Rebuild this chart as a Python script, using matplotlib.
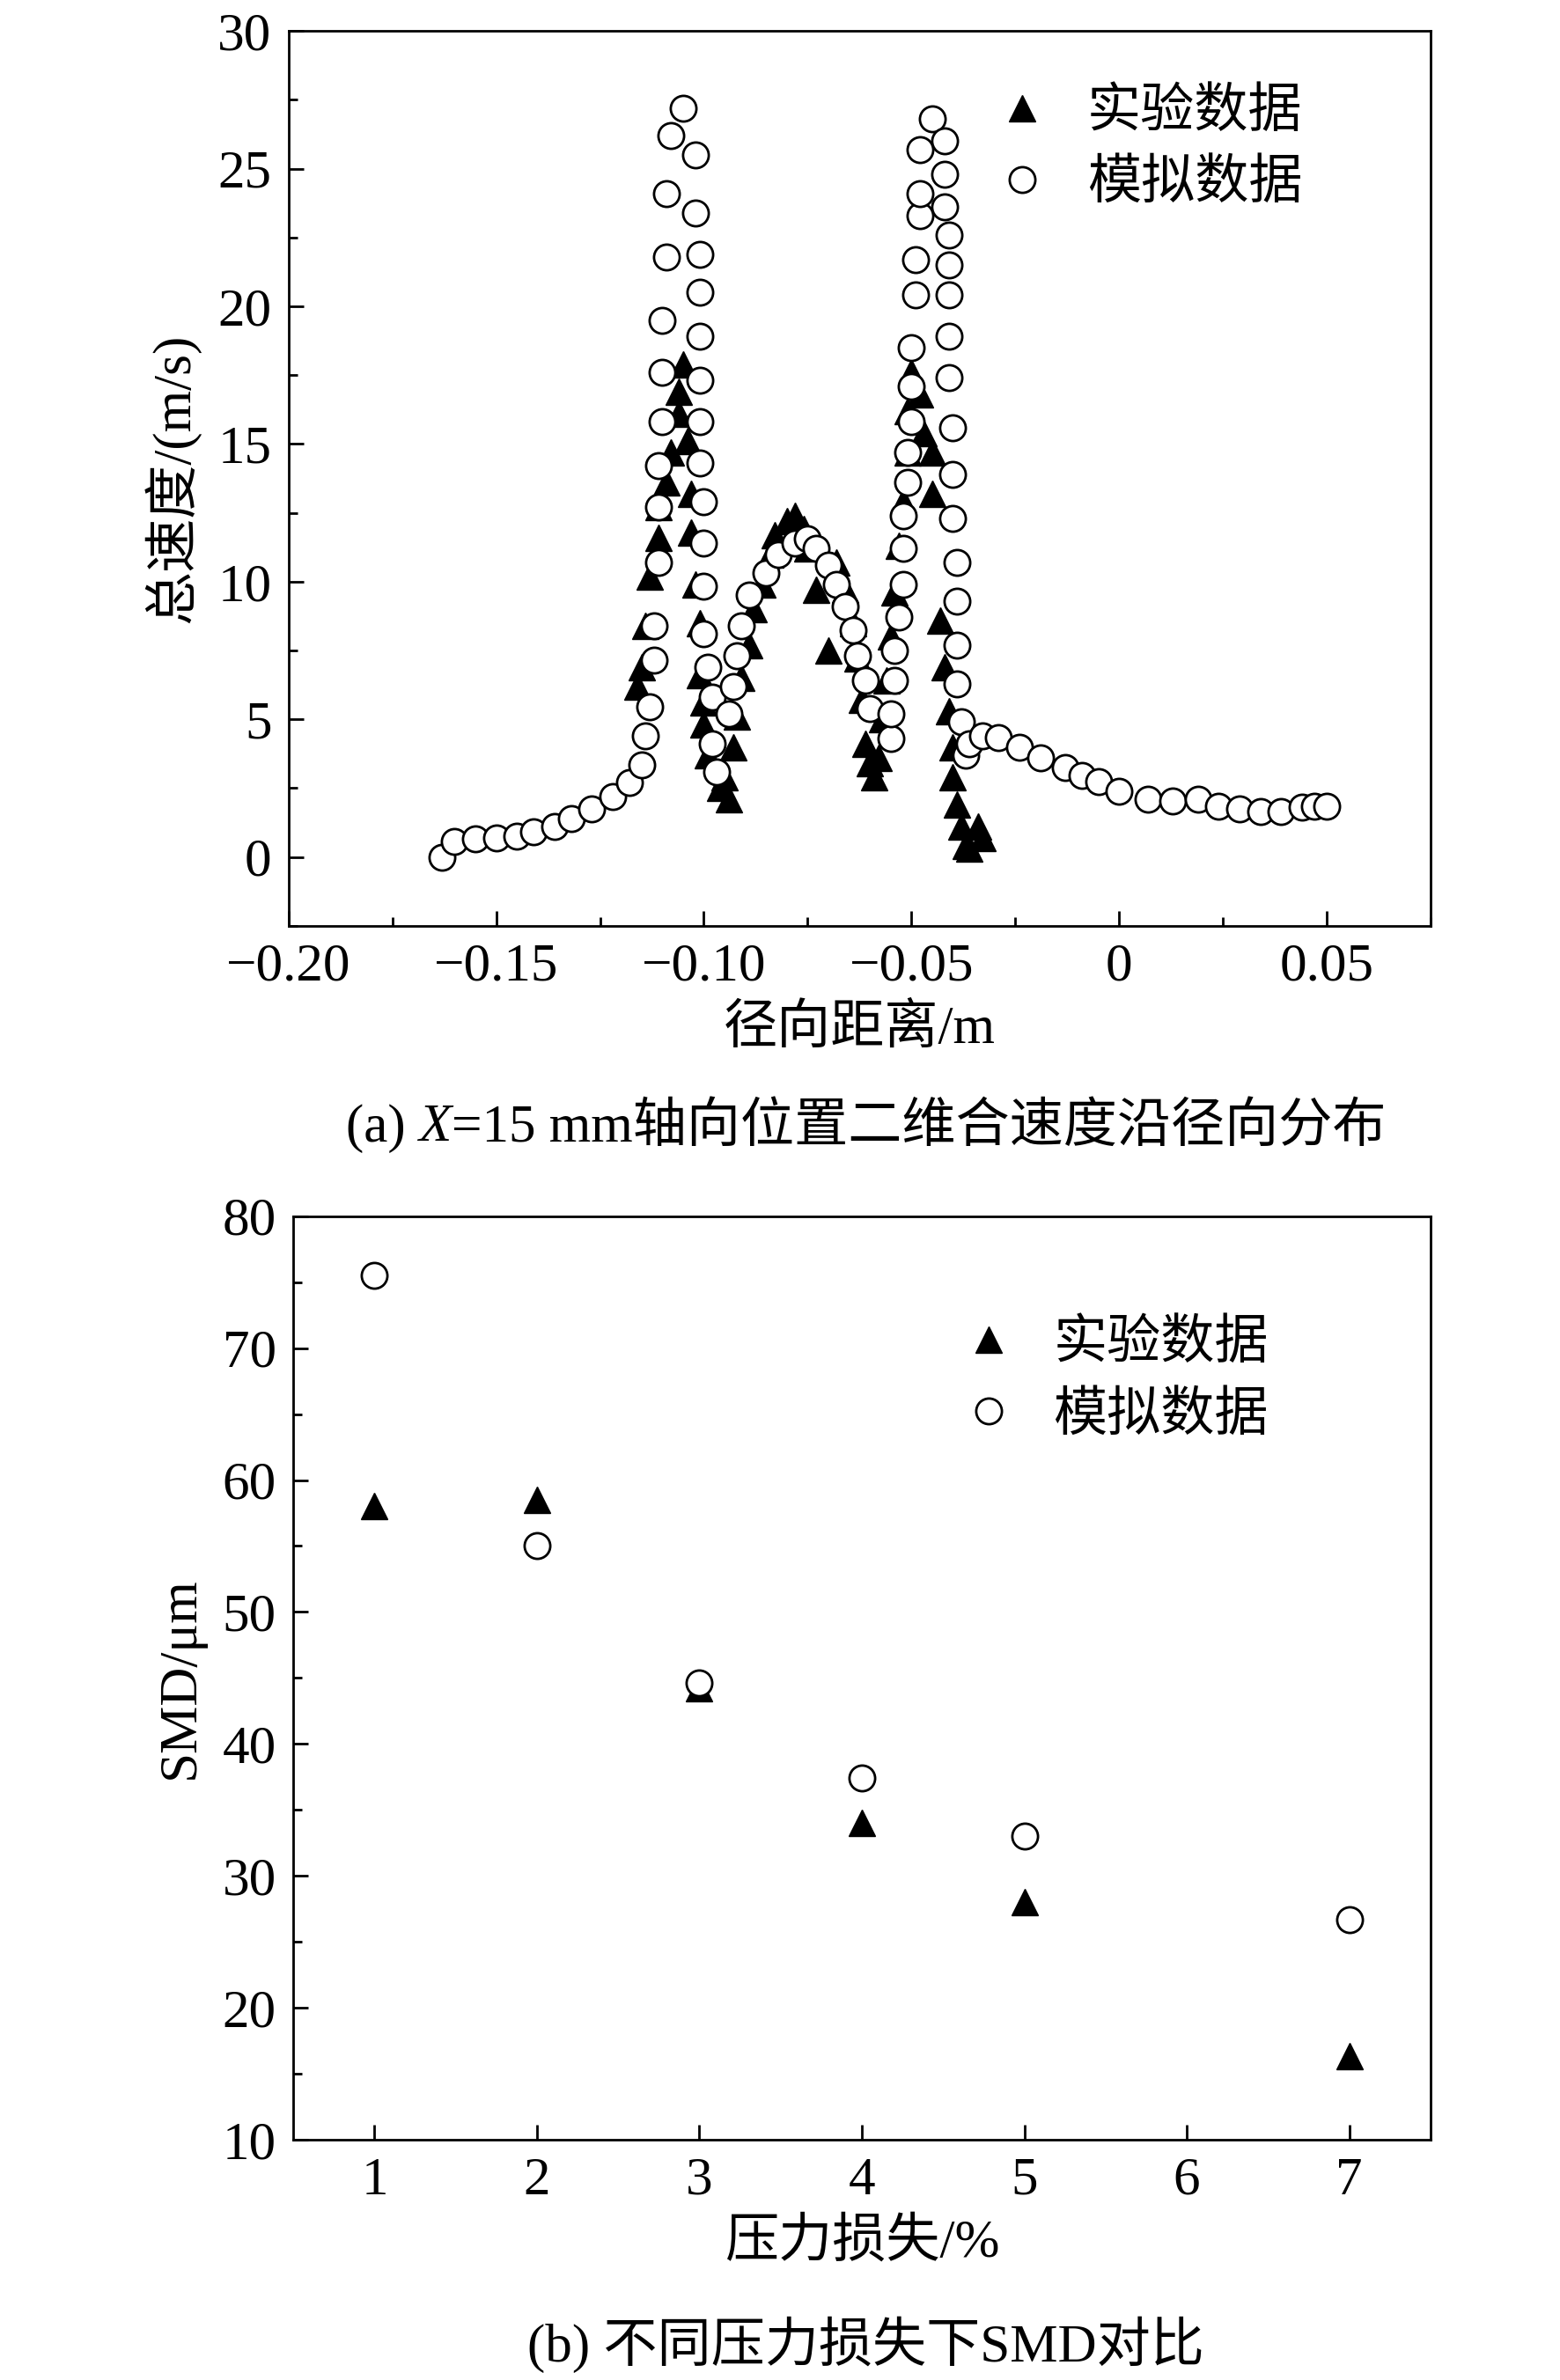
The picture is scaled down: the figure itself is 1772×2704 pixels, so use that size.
import matplotlib
matplotlib.use("Agg")
import matplotlib.pyplot as plt
from matplotlib.ticker import MultipleLocator, FuncFormatter

plt.rcParams['font.family'] = ['Liberation Serif', 'Noto Sans CJK SC']
plt.rcParams['axes.unicode_minus'] = True

sim_x = [-0.163,-0.160,-0.155,-0.150,-0.145,-0.141,-0.136,-0.132,-0.127,-0.122,-0.118,-0.115,-0.114,-0.113,-0.112,-0.112,-0.111,-0.111,-0.111,-0.110,-0.110,-0.110,-0.109,-0.109,-0.108,-0.105,
 -0.102,-0.102,-0.101,-0.101,-0.101,-0.101,-0.101,-0.101,-0.100,-0.100,-0.100,-0.100,-0.099,-0.098,-0.098,-0.097,
 -0.094,-0.093,-0.092,-0.091,-0.089,-0.085,-0.082,-0.078,-0.075,-0.073,-0.070,-0.068,-0.066,-0.064,-0.063,-0.061,-0.060,
 -0.055,-0.055,-0.054,-0.054,-0.053,-0.052,-0.052,-0.052,-0.051,-0.051,-0.050,-0.050,-0.050,-0.049,-0.049,-0.048,-0.048,-0.048,-0.045,
 -0.042,-0.042,-0.042,-0.041,-0.041,-0.041,-0.041,-0.041,-0.040,-0.040,-0.040,-0.039,-0.039,-0.039,-0.039,-0.038,-0.037,
 -0.036,-0.033,-0.029,-0.024,-0.019,-0.013,-0.009,-0.005,0.000,0.007,0.013,0.019,0.024,0.029,0.034,0.039,0.044,0.047,0.050]
sim_y = [0.0,0.55,0.65,0.7,0.75,0.9,1.1,1.4,1.75,2.2,2.7,3.35,4.4,5.45,7.15,8.4,10.7,12.7,14.2,15.8,17.6,19.5,21.8,24.1,26.2,27.2,
 25.5,23.4,21.9,20.5,18.9,17.3,15.8,14.3,12.9,11.4,9.85,8.1,6.9,5.8,4.1,3.1,
 5.2,6.2,7.3,8.4,9.5,10.3,11.0,11.4,11.55,11.2,10.6,9.9,9.1,8.25,7.3,6.4,5.4,
 4.3,5.2,6.4,7.5,8.7,9.9,11.2,12.4,13.6,14.7,15.8,17.1,18.5,20.4,21.7,23.3,24.1,25.7,26.8,
 26.0,24.8,23.6,22.6,21.5,20.4,18.9,17.4,15.6,13.9,12.3,10.7,9.3,7.7,6.3,4.9,3.7,
 4.1,4.4,4.35,4.0,3.6,3.25,2.95,2.75,2.4,2.1,2.05,2.1,1.85,1.75,1.65,1.65,1.8,1.85,1.85]
exp_x = [-0.116,-0.115,-0.114,-0.113,-0.111,-0.111,-0.109,-0.108,-0.106,-0.106,-0.105,-0.104,-0.103,-0.103,-0.102,-0.101,-0.101,-0.100,-0.100,-0.099,-0.096,-0.094,
 -0.095,-0.093,-0.092,-0.091,-0.089,-0.088,-0.086,-0.084,-0.083,-0.080,-0.078,-0.076,-0.075,-0.073,-0.070,-0.068,-0.066,-0.064,-0.063,-0.062,-0.061,-0.060,-0.059,
 -0.058,-0.057,-0.056,-0.055,-0.054,-0.053,-0.052,-0.051,-0.051,-0.050,-0.048,-0.047,-0.045,-0.045,-0.043,-0.042,-0.041,-0.040,-0.040,-0.039,-0.038,-0.037,-0.036,-0.034,-0.033]
exp_y = [6.2,6.9,8.4,10.2,11.6,12.7,13.6,14.7,16.1,16.9,17.9,15.1,13.2,11.8,9.9,8.5,6.6,5.6,4.8,3.7,2.5,2.1,
 2.9,4.0,5.1,6.5,7.7,9.0,9.9,11.0,11.7,12.2,12.4,11.9,11.2,9.7,7.5,10.7,9.7,8.5,7.2,5.7,4.1,3.4,2.9,
 3.6,5.0,6.4,8.0,9.6,11.3,12.9,14.7,16.2,17.6,16.8,15.4,14.7,13.2,8.6,6.9,5.3,4.0,2.9,1.9,1.1,0.4,0.3,1.1,0.7]

loss = [1, 2, 3, 4, 5, 7]
smd_exp = [58.0, 58.5, 44.2, 34.0, 28.0, 16.3]
smd_sim = [75.5, 55.0, 44.6, 37.4, 33.0, 26.7]

fig = plt.figure(figsize=(17.72, 27.04), dpi=100)
FS = 44
ax1 = fig.add_axes([0.185, 0.611, 0.732, 0.376])
ax2 = fig.add_axes([0.188, 0.101, 0.729, 0.388])

ms = 21
for ax in (ax1, ax2):
    for s in ax.spines.values():
        s.set_linewidth(2)
    ax.tick_params(which='both', direction='in', labelsize=FS, width=2, top=False, right=False, pad=14)
    ax.tick_params(which='major', length=12)
    ax.tick_params(which='minor', length=7)

ax1.plot(exp_x, exp_y, '^', color='black', ms=ms, ls='none', label='实验数据')
ax1.plot(sim_x, sim_y, 'o', mfc='white', mec='black', mew=2, ms=ms, ls='none', label='模拟数据')
ax1.set_xlim(-0.2, 0.075)
ax1.set_ylim(-2.5, 30)
ax1.xaxis.set_major_locator(MultipleLocator(0.05))
ax1.xaxis.set_minor_locator(MultipleLocator(0.025))
ax1.yaxis.set_major_locator(MultipleLocator(5))
ax1.yaxis.set_minor_locator(MultipleLocator(2.5))
ax1.xaxis.set_major_formatter(FuncFormatter(lambda v, p: '0' if abs(v) < 1e-9 else f'{v:.2f}'.replace('-', '\u2212')))
ax1.set_xlabel('径向距离/m', fontsize=FS, labelpad=10)
ax1.set_ylabel('总速度/(m/s)', fontsize=FS, labelpad=14)
ax1.legend(loc='upper right', bbox_to_anchor=(0.93, 0.99), fontsize=FS, frameon=False, handletextpad=0.2, labelspacing=0.4)

ax2.plot(loss, smd_exp, '^', color='black', ms=ms, ls='none', label='实验数据')
ax2.plot(loss, smd_sim, 'o', mfc='white', mec='black', mew=2, ms=ms, ls='none', label='模拟数据')
ax2.set_xlim(0.5, 7.5)
ax2.set_ylim(10, 80)
ax2.xaxis.set_major_locator(MultipleLocator(1))
ax2.yaxis.set_major_locator(MultipleLocator(10))
ax2.yaxis.set_minor_locator(MultipleLocator(5))
ax2.set_xlabel('压力损失/%', fontsize=FS, labelpad=10)
ax2.set_ylabel('SMD/μm', fontsize=FS, labelpad=14)
ax2.legend(loc='upper right', bbox_to_anchor=(0.90, 0.94), fontsize=FS, frameon=False, handletextpad=0.2, labelspacing=0.4)

# caption (a) built from pieces so that X is italic and CJK falls back
fig.canvas.draw()
r = fig.canvas.get_renderer()
pieces = [('(a) ', 'normal'), ('X', 'italic'), ('=15 mm轴向位置二维合速度沿径向分布', 'normal')]
ts = [fig.text(0, 0.526, s, fontsize=FS, style=st, va='center') for s, st in pieces]
ws = [t.get_window_extent(r).width / fig.bbox.width for t in ts]
x = 0.555 - sum(ws) / 2
for t, w in zip(ts, ws):
    t.set_x(x)
    x += w
fig.text(0.555, 0.015, '(b) 不同压力损失下SMD对比', fontsize=FS, ha='center', va='center')

fig.savefig('out.png', dpi=100, facecolor='white')
